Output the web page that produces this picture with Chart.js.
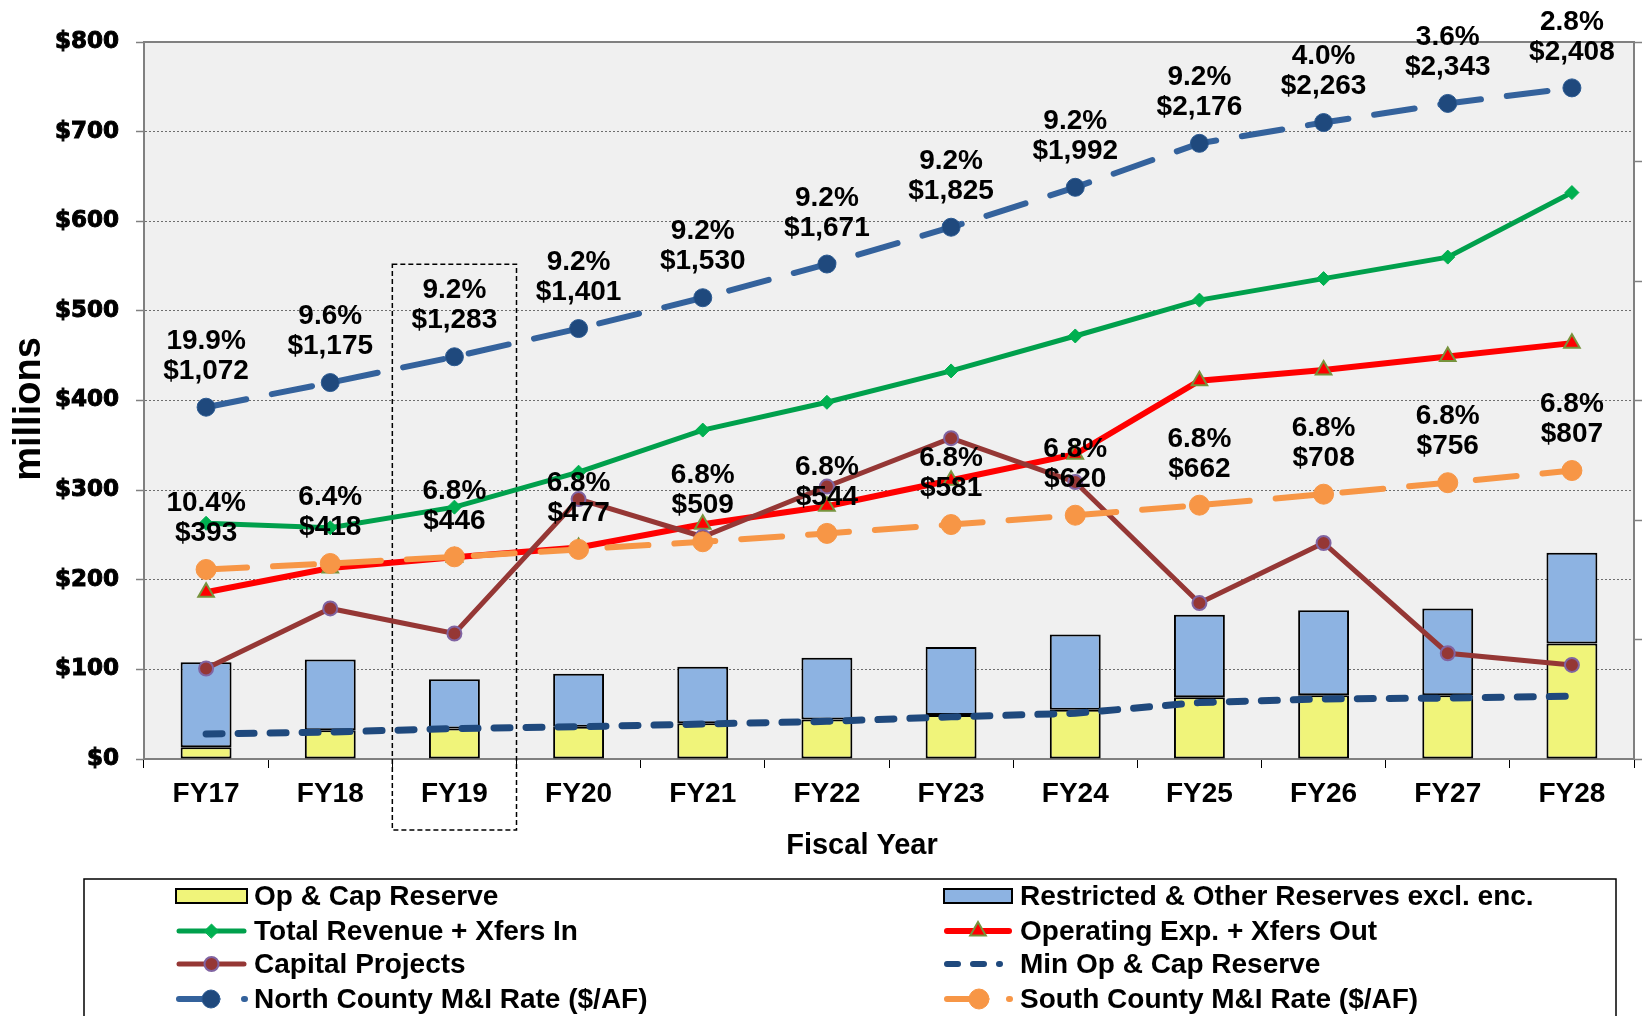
<!DOCTYPE html>
<html>
<head>
<meta charset="utf-8">
<script src="https://cdn.jsdelivr.net/npm/chart.js@4.4.1/dist/chart.umd.min.js"></script>
<style>
  html, body { margin: 0; padding: 0; background: #fff; }
  #wrap { width: 1645px; height: 1016px; }
</style>
</head>
<body>
<div id="wrap"><canvas id="myChart"></canvas></div>
<script>
const years = ["FY17", "FY18", "FY19", "FY20", "FY21", "FY22", "FY23", "FY24", "FY25", "FY26", "FY27", "FY28"];

// $ millions (left axis)
const opCapReserve = [13, 32, 34, 36, 40, 44, 49, 55, 69, 71, 71, 129];
const restrictedReserves = [95, 79, 55, 59, 63, 69, 76, 84, 92, 95, 97, 101];
const totalRevenue = [263, 258, 281, 320, 367, 398, 433, 472, 512, 536, 560, 632];
const operatingExp = [186, 213, 225, 236, 262, 282, 311, 340, 422, 434, 449, 464];
const capitalProjects = [101, 168, 140, 290, 248, 304, 358, 309, 174, 241, 118, 105];
const minReserve = [28, 30, 34, 36, 39, 42, 47, 51, 63, 67, 68, 70];

// $/AF (hidden right axis) and yearly increase in %
const northRate = [1072, 1175, 1283, 1401, 1530, 1671, 1825, 1992, 2176, 2263, 2343, 2408];
const northPct = [19.9, 9.6, 9.2, 9.2, 9.2, 9.2, 9.2, 9.2, 9.2, 4.0, 3.6, 2.8];
const southRate = [393, 418, 446, 477, 509, 544, 581, 620, 662, 708, 756, 807];
const southPct = [10.4, 6.4, 6.8, 6.8, 6.8, 6.8, 6.8, 6.8, 6.8, 6.8, 6.8, 6.8];

const highlightYear = "FY19";

const FONT = "'Liberation Sans', Arial, sans-serif";

const data = {
  labels: years,
  datasets: [
    {
      label: "Op & Cap Reserve",
      data: opCapReserve,
      backgroundColor: "#F0F47A",
      borderColor: "#000",
      borderWidth: 2,
      borderSkipped: false,
      stack: "reserves",
      categoryPercentage: 0.41,
      barPercentage: 1,
      order: 7,
    },
    {
      label: "Restricted & Other Reserves excl. enc.",
      data: restrictedReserves,
      backgroundColor: "#8DB3E2",
      borderColor: "#000",
      borderWidth: 2,
      borderSkipped: false,
      stack: "reserves",
      categoryPercentage: 0.41,
      barPercentage: 1,
      order: 8,
    },
    {
      type: "line",
      label: "Total Revenue + Xfers In",
      data: totalRevenue,
      stack: "rev",
      borderColor: "#00A04C",
      borderWidth: 5,
      pointStyle: "rectRot",
      pointRadius: 7,
      pointBackgroundColor: "#00B050",
      pointBorderColor: "#00B050",
      pointBorderWidth: 1,
      order: 6,
    },
    {
      type: "line",
      label: "Operating Exp. + Xfers Out",
      data: operatingExp,
      stack: "exp",
      borderColor: "#FF0000",
      borderWidth: 6,
      pointStyle: "triangle",
      pointRadius: 9,
      pointBackgroundColor: "#FF0000",
      pointBorderColor: "#77933C",
      pointBorderWidth: 2,
      order: 5,
    },
    {
      type: "line",
      label: "Capital Projects",
      data: capitalProjects,
      stack: "cap",
      borderColor: "#953735",
      borderWidth: 5,
      pointStyle: "circle",
      pointRadius: 7,
      pointBackgroundColor: "#953735",
      pointBorderColor: "#8064A2",
      pointBorderWidth: 2,
      order: 4,
    },
    {
      type: "line",
      label: "Min Op & Cap Reserve",
      data: minReserve,
      stack: "min",
      borderColor: "#1F497D",
      borderWidth: 7,
      borderDash: [16, 16],
      borderCapStyle: "round",
      pointRadius: 0,
      order: 3,
    },
    {
      type: "line",
      label: "North County M&I Rate ($/AF)",
      data: northRate,
      yAxisID: "y2",
      borderColor: "#34629C",
      borderWidth: 6,
      borderDash: [41, 26],
      borderCapStyle: "round",
      pointStyle: "circle",
      pointRadius: 9,
      pointBackgroundColor: "#1F497D",
      pointBorderColor: "#2B5A92",
      pointBorderWidth: 1,
      order: 2,
    },
    {
      type: "line",
      label: "South County M&I Rate ($/AF)",
      data: southRate,
      yAxisID: "y2",
      borderColor: "#F79646",
      borderWidth: 6,
      borderDash: [41, 26],
      borderCapStyle: "round",
      pointStyle: "circle",
      pointRadius: 10,
      pointBackgroundColor: "#F79646",
      pointBorderColor: "#F79646",
      pointBorderWidth: 1,
      order: 1,
    },
  ],
};

// grey plot area, frame, dashed box round FY19, axis titles
const plotFrame = {
  id: "plotFrame",
  beforeDraw(chart) {
    const { ctx, chartArea: a } = chart;
    ctx.save();
    ctx.fillStyle = "#F0F0F0";
    ctx.fillRect(a.left, a.top, a.width, a.height);
    ctx.restore();
  },
  beforeDatasetsDraw(chart) {
    const { ctx, chartArea: a, scales } = chart;
    ctx.save();
    ctx.strokeStyle = "#808080";
    ctx.lineWidth = 2;
    ctx.strokeRect(a.left, a.top, a.width, a.height);

    const xs = scales.x;
    const i = years.indexOf(highlightYear);
    const half = (xs.getPixelForValue(1) - xs.getPixelForValue(0)) / 2;
    const cx = xs.getPixelForValue(i);
    const top = scales.y.getPixelForValue(552);
    ctx.strokeStyle = "#000";
    ctx.lineWidth = 1.5;
    ctx.setLineDash([5, 3]);
    ctx.strokeRect(cx - half, top, half * 2, 830 - top);
    ctx.setLineDash([]);

    ctx.fillStyle = "#000";
    ctx.textAlign = "center";
    ctx.textBaseline = "middle";
    ctx.font = "bold 29px " + FONT;
    ctx.fillText("Fiscal Year", 862, 846);

    ctx.translate(30, 409);
    ctx.rotate(-Math.PI / 2);
    ctx.font = "bold 38px " + FONT;
    ctx.fillText("millions", 0, 0);
    ctx.restore();
  },
};

const rateLabels = {
  id: "rateLabels",
  afterDatasetsDraw(chart) {
    const { ctx } = chart;
    ctx.save();
    ctx.font = "bold 28px " + FONT;
    ctx.fillStyle = "#000";
    ctx.textAlign = "center";
    ctx.textBaseline = "middle";
    [[6, northRate, northPct], [7, southRate, southPct]].forEach(([di, rate, pct]) => {
      chart.getDatasetMeta(di).data.forEach((pt, i) => {
        ctx.fillText(pct[i].toFixed(1) + "%", pt.x, pt.y - 66);
        ctx.fillText("$" + rate[i].toLocaleString("en-US"), pt.x, pt.y - 36);
      });
    });
    ctx.restore();
  },
};

// two-column legend in a box under the axis title
const boxLegend = {
  id: "boxLegend",
  afterDraw(chart) {
    const { ctx } = chart;
    const cols = [{ s: 176, e: 247, t: 254 }, { s: 944, e: 1012, t: 1020 }];
    const rows = [896, 931, 964, 999];
    ctx.save();
    ctx.strokeStyle = "#000";
    ctx.lineWidth = 1.5;
    ctx.strokeRect(84, 879, 1532, 170);
    chart.data.datasets.forEach((ds, k) => {
      const c = cols[k % 2];
      const y = rows[Math.floor(k / 2)];
      ctx.save();
      if (ds.type === "line") {
        ctx.strokeStyle = ds.borderColor;
        ctx.lineWidth = Math.min(ds.borderWidth, 6);
        ctx.lineCap = "round";
        let x0 = c.s + 3, x1 = c.e - 3;
        if (ds.borderDash && ds.pointRadius) {
          // long dash, marker, then a dot right before the text
          ctx.setLineDash([36, (c.e - 3) - (x0 + 36)]);
          x1 = c.e - 2;
        } else if (ds.borderDash) {
          ctx.setLineDash([11, 15]);
          x1 = c.e - 12;
        }
        ctx.beginPath();
        ctx.moveTo(x0, y);
        ctx.lineTo(x1, y);
        ctx.stroke();
        ctx.setLineDash([]);
        if (ds.pointRadius) {
          const mid = ds.borderDash ? c.s + 35 : (c.s + c.e) / 2;
          ctx.fillStyle = ds.pointBackgroundColor;
          ctx.strokeStyle = ds.pointBorderColor;
          ctx.lineWidth = ds.pointBorderWidth;
          Chart.helpers.drawPoint(ctx, { pointStyle: ds.pointStyle, radius: ds.pointRadius, rotation: 0, borderWidth: ds.pointBorderWidth }, mid, y);
        }
      } else {
        ctx.fillStyle = ds.backgroundColor;
        ctx.strokeStyle = "#000";
        ctx.lineWidth = 2;
        ctx.fillRect(c.s, y - 7, c.e - c.s, 14);
        ctx.strokeRect(c.s, y - 7, c.e - c.s, 14);
      }
      ctx.restore();
      ctx.fillStyle = "#000";
      ctx.font = "bold 28px " + FONT;
      ctx.textAlign = "left";
      ctx.textBaseline = "middle";
      ctx.fillText(ds.label, c.t, y + 1);
    });
    ctx.restore();
  },
};

const config = {
  type: "bar",
  data: data,
  options: {
    responsive: true,
    maintainAspectRatio: false,
    animation: false,
    events: [],
    layout: { padding: { top: 42, left: 0, right: 0, bottom: 137 } },
    plugins: {
      legend: { display: false },
      tooltip: { enabled: false },
    },
    scales: {
      x: {
        offset: true,
        grid: { display: true, drawOnChartArea: false, drawTicks: true, tickLength: 9, tickColor: "#000", tickWidth: 1, offset: true },
        border: { display: true, color: "#808080", width: 2 },
        ticks: { color: "#000", font: { family: FONT, size: 28, weight: "bold" }, padding: 9, maxRotation: 0, autoSkip: false },
        afterFit(scale) { scale.height = 120; },
      },
      y: {
        stacked: true,
        min: 0,
        max: 800,
        ticks: {
          stepSize: 100,
          callback: (v) => "$" + v,
          color: "#000",
          textStrokeColor: "#000",
          textStrokeWidth: 1,
          font: { family: "'DejaVu Sans', Verdana, sans-serif", size: 23, weight: "bold" },
          padding: 17,
        },
        grid: { color: "#6e6e6e", lineWidth: 1, tickLength: 8, tickColor: "#808080", tickWidth: 1.5 },
        border: { display: true, color: "#808080", width: 2, dash: [2, 2] },
        afterFit(scale) { scale.width = 144; },
      },
      y2: {
        position: "right",
        min: -400,
        max: 2600,
        ticks: { display: false, stepSize: 500 },
        grid: { drawOnChartArea: false, tickLength: 8, tickColor: "#808080", tickWidth: 1.5 },
        border: { display: true, color: "#808080", width: 2 },
        afterFit(scale) { scale.width = 6; },
      },
    },
  },
  plugins: [plotFrame, rateLabels, boxLegend],
};

const myChart = new Chart(document.getElementById("myChart"), config);
</script>
</body>
</html>
